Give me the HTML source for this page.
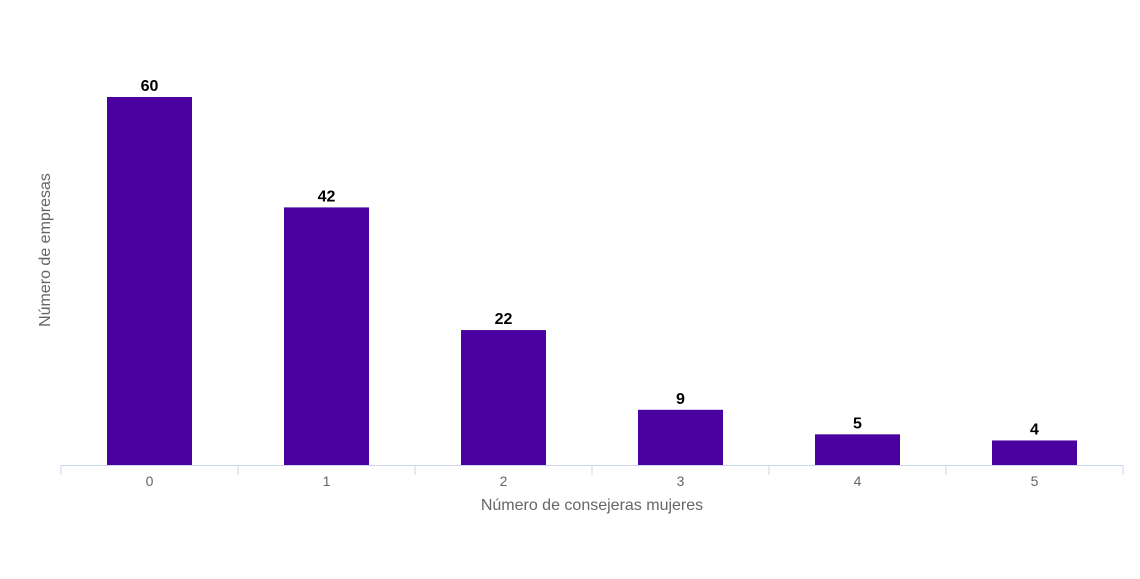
<!DOCTYPE html>
<html><head><meta charset="utf-8"><style>
body{margin:0;background:#fff;font-family:"Liberation Sans",sans-serif}
svg{display:block}
</style></head><body>
<svg id="chart" width="1140" height="579" viewBox="0 0 1140 579">
<rect width="1140" height="579" fill="#fff"/>
<g id="bars"></g>
<g id="axis"></g>
<text x="592" y="510" text-anchor="middle" font-size="16" fill="#666">Número de consejeras mujeres</text>
<text transform="translate(50,250) rotate(-90)" text-anchor="middle" font-size="16" fill="#666">Número de empresas</text>
</svg>
<script>
const categories = ["0","1","2","3","4","5"];
const values = [60,42,22,9,5,4];
const NS="http://www.w3.org/2000/svg";
const left=61,right=1123,base=465,pxPer=368/60,barW=85;
const step=(right-left)/categories.length;
const x=i=>left+step*(i+0.5);
const y=v=>base-v*pxPer;
const bars=document.getElementById('bars'),axis=document.getElementById('axis');
function mk(tag,attrs,parent){const e=document.createElementNS(NS,tag);for(const k in attrs)e.setAttribute(k,attrs[k]);parent.appendChild(e);return e;}
categories.forEach((c,i)=>{
  const r=mk('rect',{x:x(i)-barW/2,y:y(values[i]),width:barW,height:base-y(values[i]),fill:'#4b00a0'},bars);
  
  
  const t=mk('text',{x:x(i),y:y(values[i])-6,'text-anchor':'middle','font-size':'16','font-weight':'bold',fill:'#000'},bars);
  t.textContent=values[i];
  
  
  const l=mk('text',{x:x(i),y:486,'text-anchor':'middle','font-size':'14',fill:'#666'},axis);
  l.textContent=c;
  
  
});
const al=mk('line',{x1:left,x2:right,y1:base+0.5,y2:base+0.5,stroke:'#ccd6eb'},axis);


for(let i=0;i<=categories.length;i++){
  const tk=mk('line',{x1:left+step*i,x2:left+step*i,y1:base,y2:base+10,stroke:'#ccd6eb'},axis);
  
  
}
</script>
</body></html>
